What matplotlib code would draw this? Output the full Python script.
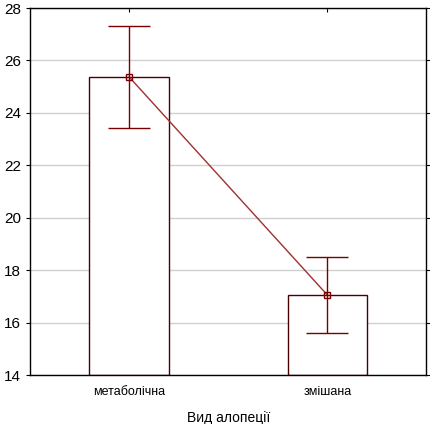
import numpy as np
import matplotlib
matplotlib.use("Agg")
import matplotlib.pyplot as plt

plt.rcParams['font.family'] = ['Liberation Sans', 'DejaVu Sans']

categories = ["метаболічна", "змішана"]
means = [25.37, 17.05]
err_low = [23.42, 15.60]
err_high = [27.31, 18.50]
yticks = [14, 16, 18, 20, 22, 24, 26, 28]

dark_red = "#7a0000"
line_red = "#a03030"

fig = plt.figure(figsize=(4.31, 4.24), dpi=100)
ax = fig.add_axes([30 / 431, 1 - 375 / 424, 396.5 / 431, 367 / 424])

x = np.arange(len(categories))
m = np.array(means)
lo = m - np.array(err_low)
hi = np.array(err_high) - m

ax.bar(x, m - 14, bottom=14, width=0.4, facecolor="white",
       edgecolor="#4a0000", linewidth=1.0, zorder=2)
ax.plot(x, m, color=line_red, linewidth=1.0, zorder=3)
ax.errorbar(x, m, yerr=[lo, hi], fmt="none", ecolor=dark_red,
            elinewidth=1.0, capsize=15, capthick=1.0, zorder=4)
ax.plot(x, m, "s", markersize=4, markerfacecolor="none",
        markeredgecolor=dark_red, markeredgewidth=1.0, zorder=5)

ax.set_xlim(-0.5, 1.5)
ax.set_ylim(14, 28)
ax.set_yticks(yticks)
ax.set_xticks(x)
ax.set_xticklabels(categories)
ax.yaxis.grid(True, color="#d0d0d0", linewidth=1.0, zorder=0)
ax.set_axisbelow(True)

ax.tick_params(axis="x", direction="in", length=3, top=True, labelsize=9, pad=8)
ax.tick_params(axis="y", direction="out", length=3, right=True, labelsize=11)
for s in ax.spines.values():
    s.set_linewidth(1.0)

ax.set_xlabel("Вид алопеції", fontsize=10, labelpad=9)

fig.savefig("out.png", dpi=100)
